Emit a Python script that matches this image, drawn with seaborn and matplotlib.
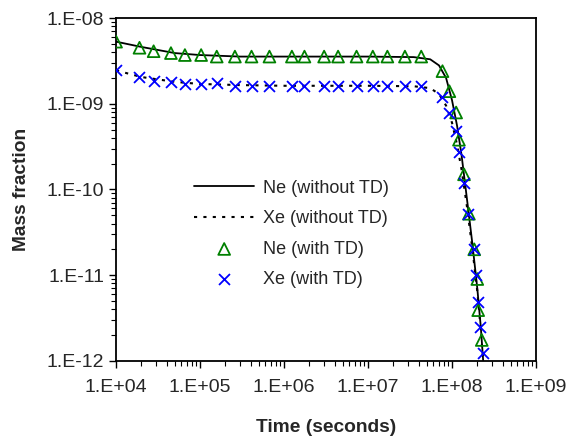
import seaborn as sns
import pandas as pd
import matplotlib.pyplot as plt
from matplotlib.ticker import LogLocator, FixedLocator, NullFormatter

# marker times (s) - both species share the same output times
t_marks = [1.0e4, 1.9e4, 2.8e4, 4.5e4, 6.6e4, 1.03e5, 1.58e5, 2.6e5, 4.1e5, 6.7e5,
           1.24e6, 1.75e6, 3.0e6, 4.4e6, 7.3e6, 1.14e7, 1.7e7, 2.75e7, 4.3e7,
           7.7e7, 9.3e7, 1.12e8, 1.21e8, 1.39e8, 1.59e8, 1.84e8, 2.0e8, 2.05e8, 2.26e8]
ne_td = [5.3e-9, 4.5e-9, 4.1e-9, 3.9e-9, 3.7e-9, 3.7e-9, 3.55e-9, 3.55e-9, 3.55e-9, 3.55e-9,
         3.55e-9, 3.55e-9, 3.55e-9, 3.55e-9, 3.55e-9, 3.55e-9, 3.55e-9, 3.55e-9, 3.55e-9,
         2.4e-9, 1.4e-9, 7.9e-10, 3.8e-10, 1.5e-10, 5.2e-11, 2.0e-11, 9.0e-12, 3.9e-12, 1.75e-12]

t_xe = [1.0e4, 1.9e4, 2.8e4, 4.5e4, 6.6e4, 1.03e5, 1.58e5, 2.6e5, 4.1e5, 6.7e5,
        1.24e6, 1.75e6, 3.0e6, 4.4e6, 7.3e6, 1.14e7, 1.7e7, 2.75e7, 4.3e7,
        7.7e7, 9.2e7, 1.12e8, 1.21e8, 1.39e8, 1.56e8, 1.84e8, 1.95e8, 2.05e8, 2.15e8, 2.33e8]
xe_td = [2.45e-9, 2.03e-9, 1.86e-9, 1.77e-9, 1.70e-9, 1.70e-9, 1.74e-9, 1.62e-9, 1.62e-9, 1.62e-9,
         1.62e-9, 1.62e-9, 1.62e-9, 1.62e-9, 1.62e-9, 1.62e-9, 1.62e-9, 1.62e-9, 1.62e-9,
         1.19e-9, 7.7e-10, 4.85e-10, 2.76e-10, 1.19e-10, 5.2e-11, 2.0e-11, 1.0e-11, 4.8e-12, 2.47e-12, 1.23e-12]

# model curves (without thermal diffusion)
t_line = [1.0e4, 2.0e4, 5.0e4, 1.0e5, 3.0e5, 1.0e6, 1.0e7, 3.5e7, 5.5e7, 7.0e7, 8.5e7,
          1.0e8, 1.15e8, 1.3e8, 1.5e8, 1.75e8, 2.0e8, 2.2e8, 2.35e8]
ne_line = [5.3e-9, 4.6e-9, 3.9e-9, 3.7e-9, 3.55e-9, 3.55e-9, 3.55e-9, 3.5e-9, 3.3e-9, 2.8e-9, 2.0e-9,
           1.1e-9, 5.5e-10, 2.5e-10, 8.0e-11, 2.3e-11, 7.0e-12, 2.5e-12, 1.0e-12]
xe_line = [2.45e-9, 2.05e-9, 1.8e-9, 1.7e-9, 1.65e-9, 1.62e-9, 1.62e-9, 1.6e-9, 1.52e-9, 1.3e-9, 9.5e-10,
           6.0e-10, 3.3e-10, 1.7e-10, 6.5e-11, 2.0e-11, 6.5e-12, 2.3e-12, 1.0e-12]

sns.set_style('ticks')
plt.rcParams['font.family'] = ['Liberation Sans', 'DejaVu Sans']

fig, ax = plt.subplots(figsize=(5.69, 4.40), dpi=100)
fig.subplots_adjust(left=0.204, right=0.942, top=0.959, bottom=0.18)

sns.lineplot(x=t_line, y=ne_line, ax=ax, color='black', linewidth=1.3,
             label='Ne (without TD)', sort=False, estimator=None)
sns.lineplot(x=t_line, y=xe_line, ax=ax, color='black', linewidth=1.5,
             linestyle=(0, (1.5, 3)), label='Xe (without TD)', sort=False, estimator=None)
sns.scatterplot(x=t_marks, y=ne_td, ax=ax, marker='^', s=72, color='green',
                facecolor='none', edgecolor='green', linewidth=1.3, label='Ne (with TD)', zorder=3)
sns.scatterplot(x=t_xe, y=xe_td, ax=ax, marker='x', s=62, color='blue',
                linewidth=1.3, label='Xe (with TD)', zorder=3)

ax.set_xscale('log')
ax.set_yscale('log')
ax.set_xlim(1e4, 1e9)
ax.set_ylim(1e-12, 1e-8)

ax.xaxis.set_major_locator(FixedLocator([1e4, 1e5, 1e6, 1e7, 1e8, 1e9]))
ax.yaxis.set_major_locator(FixedLocator([1e-12, 1e-11, 1e-10, 1e-9, 1e-8]))
ax.xaxis.set_minor_locator(LogLocator(base=10, subs=range(2, 10), numticks=20))
ax.yaxis.set_minor_locator(LogLocator(base=10, subs=range(2, 10), numticks=20))
ax.xaxis.set_minor_formatter(NullFormatter())
ax.yaxis.set_minor_formatter(NullFormatter())
ax.set_xticklabels(['1.E+04', '1.E+05', '1.E+06', '1.E+07', '1.E+08', '1.E+09'])
ax.set_yticklabels(['1.E-12', '1.E-11', '1.E-10', '1.E-09', '1.E-08'])

ax.tick_params(which='major', direction='out', length=5, width=1, labelsize=14, color='black')
ax.tick_params(which='minor', direction='out', length=3.5, width=0.8, color='black')
ax.tick_params(axis='x', pad=8)

for s in ax.spines.values():
    s.set_visible(True)
    s.set_color('black')
    s.set_linewidth(1.3)

ax.set_xlabel('Time (seconds)', fontsize=13.8, fontweight='bold', labelpad=17)
ax.set_ylabel('Mass fraction', fontsize=13.8, fontweight='bold', labelpad=12)

ax.legend(loc='upper left', bbox_to_anchor=(0.165, 0.555), frameon=False, fontsize=13,
          handlelength=3.3, handletextpad=0.5, labelspacing=0.75, borderpad=0, scatterpoints=1)

plt.savefig('out.png', dpi=100)
